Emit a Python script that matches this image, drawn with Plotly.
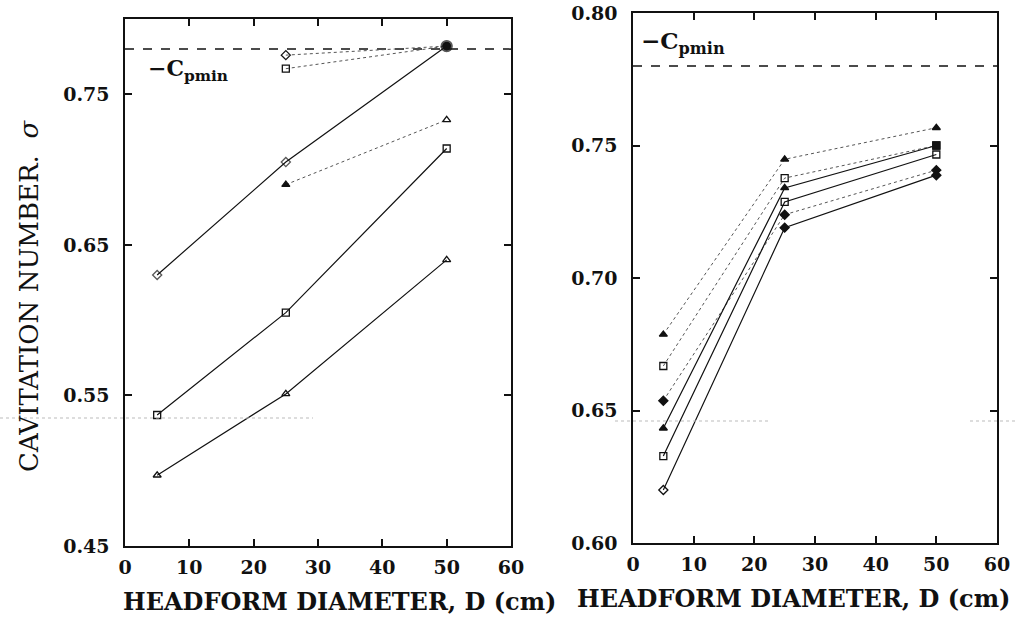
import plotly.graph_objects as go

# ---------------- data ----------------
D = [5, 25, 50]
D2 = [25, 50]
cpmin_left = 0.78
cpmin_right = 0.78

# left panel, solid series
left_diamond = [0.630, 0.705, 0.782]
left_square = [0.537, 0.605, 0.714]
left_triangle = [0.497, 0.551, 0.640]
# left panel, dotted series (25 cm and 50 cm only)
left_dot_diamond = [0.776, 0.782]
left_dot_square = [0.767, 0.782]
left_dot_triangle = [0.690, 0.733]

# right panel, solid series
right_triangle = [0.6433, 0.7340, 0.7500]
right_square = [0.6328, 0.7287, 0.7466]
right_diamond = [0.6200, 0.7190, 0.7388]
# right panel, dotted series
right_dot_triangle = [0.6787, 0.7448, 0.7567]
right_dot_square = [0.6668, 0.7377, 0.7500]
right_dot_diamond = [0.6537, 0.7239, 0.7407]

left_yticks = [0.45, 0.55, 0.65, 0.75]
right_yticks = [0.60, 0.65, 0.70, 0.75, 0.80]
xticks = [0, 10, 20, 30, 40, 50, 60]

SERIF = "DejaVu Serif"
BLACK = "#111111"
DOT = "#555555"

fig = go.Figure()


def add(x, y, symbols, dash, xa, ya, color=BLACK, width=1.2, size=7):
    fig.add_trace(go.Scatter(
        x=x, y=y, mode="lines+markers", xaxis=xa, yaxis=ya,
        line=dict(color=color, width=width, dash=dash),
        marker=dict(symbol=symbols, size=size, color=BLACK,
                    line=dict(color=BLACK, width=1.3)),
        showlegend=False, hoverinfo="skip"))


# Cpmin lines
fig.add_trace(go.Scatter(x=[0, 60], y=[cpmin_left, cpmin_left], mode="lines",
                         line=dict(color=BLACK, width=1.5, dash="dash"),
                         xaxis="x", yaxis="y", showlegend=False, hoverinfo="skip"))
fig.add_trace(go.Scatter(x=[0, 60], y=[cpmin_right, cpmin_right], mode="lines",
                         line=dict(color=BLACK, width=1.5, dash="dash"),
                         xaxis="x2", yaxis="y2", showlegend=False, hoverinfo="skip"))

# left dotted
add(D2, left_dot_diamond, ["diamond-open", "circle"], "dot", "x", "y", DOT, 1)
add(D2, left_dot_square, ["square-open", "circle"], "dot", "x", "y", DOT, 1)
add(D2, left_dot_triangle, ["triangle-up", "triangle-up-open"], "dot", "x", "y", DOT, 1)
# left solid
add(D, left_diamond, ["diamond-open", "diamond-open", "circle"], "solid", "x", "y",
    size=[7, 7, 11])
add(D, left_square, "square-open", "solid", "x", "y")
add(D, left_triangle, "triangle-up-open", "solid", "x", "y")

# right dotted
add(D, right_dot_triangle, "triangle-up", "dot", "x2", "y2", DOT, 1)
add(D, right_dot_square, ["square-open", "square-open", "square"], "dot", "x2", "y2", DOT, 1)
add(D, right_dot_diamond, "diamond", "dot", "x2", "y2", DOT, 1)
# right solid
add(D, right_triangle, ["triangle-up", "triangle-up", "square"], "solid", "x2", "y2")
add(D, right_square, "square-open", "solid", "x2", "y2")
add(D, right_diamond, ["diamond-open", "diamond", "diamond"], "solid", "x2", "y2")

tickfont = dict(family=SERIF, size=19, color=BLACK, weight="bold")
axis_common = dict(showline=True, linecolor=BLACK, linewidth=1.5, mirror="ticks",
                   ticks="inside", ticklen=7, tickwidth=1.5, tickcolor=BLACK,
                   showgrid=False, zeroline=False, tickfont=tickfont,
                   automargin=False)

fig.update_layout(
    width=1018, height=617,
    margin=dict(l=0, r=0, t=0, b=0, autoexpand=False),
    paper_bgcolor="white", plot_bgcolor="white",
    xaxis=dict(domain=[125 / 1018, 511 / 1018], range=[0, 60], tickvals=xticks,
               anchor="y", ticklabelstandoff=3, **axis_common),
    yaxis=dict(domain=[1 - 546 / 617, 1 - 19 / 617], range=[0.45, 0.80],
               tickvals=left_yticks, ticktext=[f"{v:.2f}" for v in left_yticks],
               anchor="x", ticklabelstandoff=10, **axis_common),
    xaxis2=dict(domain=[633 / 1018, 997 / 1018], range=[0, 60], tickvals=xticks,
                anchor="y2", ticklabelstandoff=3, **axis_common),
    yaxis2=dict(domain=[1 - 543 / 617, 1 - 13 / 617], range=[0.60, 0.80],
                tickvals=right_yticks, ticktext=[f"{v:.2f}" for v in right_yticks],
                anchor="x2", ticklabelstandoff=10, **axis_common),
)

title_font = dict(family=SERIF, size=24, color=BLACK, weight="bold")
fig.add_annotation(text="HEADFORM DIAMETER, D (cm)", xref="paper", yref="paper",
                   x=339 / 1018, y=1 - 601 / 617, showarrow=False, font=title_font,
                   xanchor="center", yanchor="middle")
fig.add_annotation(text="HEADFORM DIAMETER, D (cm)", xref="paper", yref="paper",
                   x=793 / 1018, y=1 - 598 / 617, showarrow=False, font=title_font,
                   xanchor="center", yanchor="middle")
fig.add_annotation(text="CAVITATION NUMBER.  <i>σ</i>", xref="paper", yref="paper",
                   x=29 / 1018, y=1 - 296 / 617, showarrow=False,
                   font=dict(family=SERIF, size=26, color=BLACK),
                   textangle=-90, xanchor="center", yanchor="middle")

cp_font = dict(family=SERIF, size=22, color=BLACK, weight="bold")
fig.add_annotation(text="−C<sub>pmin</sub>", xref="x", yref="y", x=3.3, y=0.766,
                   showarrow=False, font=cp_font, xanchor="left", yanchor="middle")
fig.add_annotation(text="−C<sub>pmin</sub>", xref="x2", yref="y2", x=1.0, y=0.789,
                   showarrow=False, font=dict(family=SERIF, size=23, color=BLACK,
                                              weight="bold"),
                   xanchor="left", yanchor="middle")

# faint scan dotted lines
fig.add_shape(type="line", xref="paper", yref="paper", x0=0, x1=313 / 1018,
              y0=1 - 418 / 617, y1=1 - 418 / 617,
              line=dict(color="#bbbbbb", width=1, dash="dot"))
fig.add_shape(type="line", xref="paper", yref="paper", x0=615 / 1018, x1=770 / 1018,
              y0=1 - 421 / 617, y1=1 - 421 / 617,
              line=dict(color="#bbbbbb", width=1, dash="dot"))
fig.add_shape(type="line", xref="paper", yref="paper", x0=970 / 1018, x1=1,
              y0=1 - 421 / 617, y1=1 - 421 / 617,
              line=dict(color="#bbbbbb", width=1, dash="dot"))

fig.write_html("out.html")
